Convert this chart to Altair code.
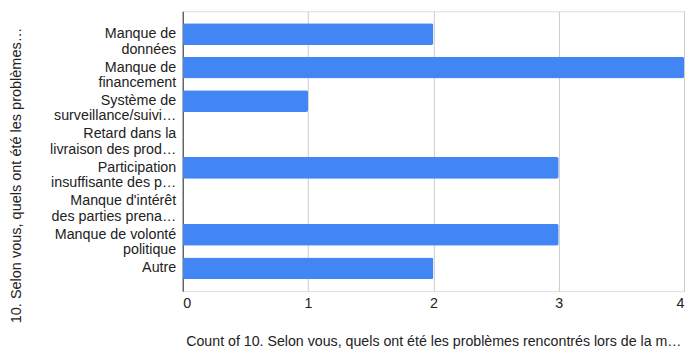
import altair as alt
import pandas as pd

categories = [
    "Manque de\ndonnées",
    "Manque de\nfinancement",
    "Système de\nsurveillance/suivi…",
    "Retard dans la\nlivraison des prod…",
    "Participation\ninsuffisante des p…",
    "Manque d'intérêt\ndes parties prena…",
    "Manque de volonté\npolitique",
    "Autre",
]
counts = [2, 4, 1, 0, 3, 0, 3, 2]
x_ticks = [0, 1, 2, 3, 4]

df = pd.DataFrame({"cat": categories, "count": counts})

font = "Liberation Sans"
fs = 14.4

chart = (
    alt.Chart(df)
    .mark_bar(color="#4285F4", cornerRadius=2)
    .encode(
        y=alt.Y(
            "cat:N",
            sort=categories,
            scale=alt.Scale(paddingInner=0.35, paddingOuter=0.36),
            axis=alt.Axis(
                title="10. Selon vous, quels ont été les problèmes…",
                labelExpr="split(datum.label, '\\n')",
                labelFontSize=fs,
                labelColor="#222222",
                labelFont=font,
                labelLineHeight=15.5,
                labelPadding=7,
                ticks=False,
                domain=True,
                domainColor="#333333",
                grid=False,
                titleFont=font,
                titleFontSize=14.6,
                titleFontWeight="normal",
                titleColor="#222222",
                titlePadding=26,
                titleY=165,
                labelLimit=200,
            ),
        ),
        x=alt.X(
            "count:Q",
            scale=alt.Scale(domain=[0, 4], nice=False),
            axis=alt.Axis(
                values=x_ticks,
                format="d",
                title="Count of 10. Selon vous, quels ont été les problèmes rencontrés lors de la m…",
                labelFontSize=fs,
                labelColor="#222222",
                labelFont=font,
                labelPadding=5,
                ticks=False,
                domain=False,
                grid=True,
                gridColor="#cccccc",
                titleFont=font,
                titleFontSize=14.3,
                titleFontWeight="normal",
                titleColor="#222222",
                titlePadding=25,
            ),
        ),
    )
    .properties(
        width=505,
        height=282,
        autosize=alt.AutoSizeParams(type="none"),
        padding={"left": 176, "top": 2, "right": 2, "bottom": 60},
    )
    .configure_view(stroke=None)
    .configure(background="white")
)

chart.save("out.html", embed_options={"renderer": "svg", "actions": False})
